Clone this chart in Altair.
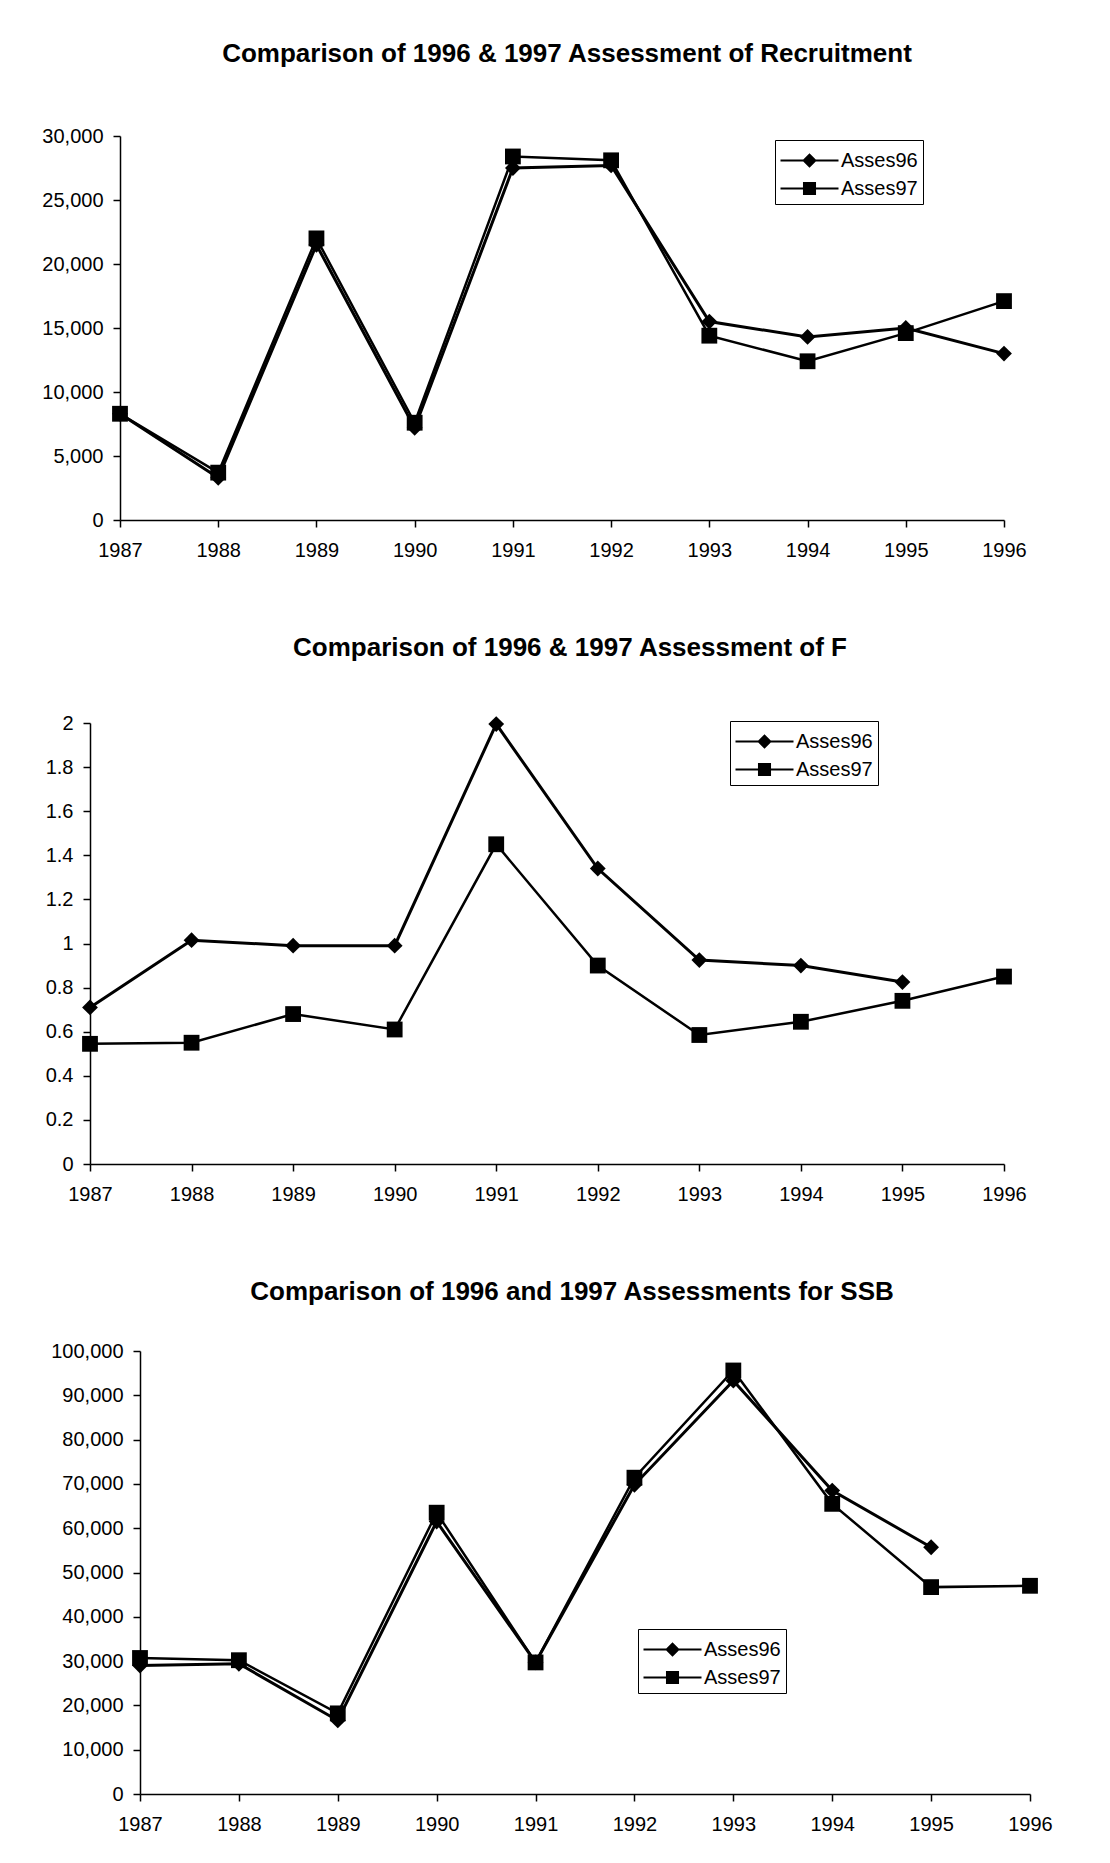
import altair as alt
import pandas as pd

years = [1987, 1988, 1989, 1990, 1991, 1992, 1993, 1994, 1995, 1996]
series_names = ["Asses96", "Asses97"]

rec96 = [8300, 3300, 21500, 7200, 27500, 27700, 15500, 14300, 15000, 13000]
rec97 = [8300, 3700, 22000, 7600, 28400, 28100, 14400, 12400, 14600, 17100]

f96 = [0.71, 1.015, 0.99, 0.99, 1.995, 1.34, 0.925, 0.90, 0.825, None]
f97 = [0.545, 0.55, 0.68, 0.61, 1.45, 0.90, 0.585, 0.645, 0.74, 0.85]

ssb96 = [29000, 29400, 16600, 61500, 29700, 69800, 93300, 68500, 55700, None]
ssb97 = [30700, 30200, 18200, 63500, 29700, 71400, 95600, 65500, 46700, 47000]

rec_ticks = [0, 5000, 10000, 15000, 20000, 25000, 30000]
f_ticks = [0, 0.2, 0.4, 0.6, 0.8, 1.0, 1.2, 1.4, 1.6, 1.8, 2.0]
ssb_ticks = [0, 10000, 20000, 30000, 40000, 50000, 60000, 70000, 80000, 90000, 100000]

FONT = "Liberation Sans"
# legend symbols: a line with the marker in its middle (fill only)
P96 = "M-2,-0.07L2,-0.07L2,0.07L-2,0.07ZM0,-0.5L0.5,0L0,0.5L-0.5,0Z"
P97 = "M-2,-0.07L2,-0.07L2,0.07L-2,0.07ZM-0.45,-0.45L0.45,-0.45L0.45,0.45L-0.45,0.45Z"


def long_df(a, b):
    rows = []
    for name, vals in zip(series_names, [a, b]):
        for yr, v in zip(years, vals):
            if v is not None:
                rows.append({"year": yr, "series": name, "value": v})
    return pd.DataFrame(rows)


def panel(df, title, ticks, fmt, width, height, extent, lx, ly, toff, tdx):
    x = alt.X("year:O", scale=alt.Scale(type="point", padding=0),
              axis=alt.Axis(title=None, labelAngle=0, tickSize=7, labelPadding=13))
    y = alt.Y("value:Q", scale=alt.Scale(domain=[ticks[0], ticks[-1]], nice=False),
              axis=alt.Axis(title=None, values=ticks, format=fmt, tickSize=7,
                            labelPadding=10, minExtent=extent, maxExtent=extent))
    base = alt.Chart(df)
    line = base.mark_line(color="black").encode(
        x=x, y=y, detail="series:N",
        strokeWidth=alt.StrokeWidth("series:N", scale=alt.Scale(domain=series_names, range=[3, 2.5]),
                                    legend=None),
    )
    pts = base.mark_point(filled=True, color="black", opacity=1, size=250).encode(
        x=x, y=y,
        shape=alt.Shape("series:N", scale=alt.Scale(domain=series_names, range=["diamond", "square"]),
                        legend=None),
    )
    leg = base.transform_filter("false").mark_point(
        filled=True, color="black", opacity=1, size=841
    ).encode(
        x=x, y=y,
        shape=alt.Shape("series:N", scale=alt.Scale(domain=series_names, range=[P96, P97]),
                        legend=alt.Legend(
                            title=None, orient="none", legendX=lx, legendY=ly,
                            labelFont=FONT, labelFontSize=20, labelColor="black",
                            strokeColor="black", fillColor="white", padding=5,
                            symbolSize=841, symbolOffset=14, labelOffset=16, rowPadding=2,
                            symbolFillColor="black", symbolOpacity=1,
                        )),
    )
    return alt.layer(line, pts, leg).resolve_scale(shape="independent").properties(
        width=width, height=height,
        title=alt.TitleParams(title, font=FONT, fontSize=26, fontWeight="bold",
                              anchor="middle", offset=toff, dx=tdx, color="black"),
    )


def spacer(w):
    return alt.Chart(pd.DataFrame({"s": [0]})).mark_point(opacity=0).properties(width=w, height=1)


p1 = panel(long_df(rec96, rec97), "Comparison of 1996 & 1997 Assessment of Recruitment",
           rec_ticks, ",d", 884, 384, 80, 655, 4, 59, 5)
p2 = panel(long_df(f96, f97), "Comparison of 1996 & 1997 Assessment of F",
           f_ticks, ".1~f", 914, 441, 75, 640, -2, 52, 23)
p3 = panel(long_df(ssb96, ssb97), "Comparison of 1996 and 1997 Assessments for SSB",
           ssb_ticks, ",d", 890, 443, 80, 498, 278, 36, -13)


def row(p, w):
    return alt.hconcat(spacer(w), p, spacing=0).resolve_scale(
        shape="independent", strokeWidth="independent", x="independent", y="independent"
    ).resolve_legend(shape="independent")


chart = alt.vconcat(row(p1, 29), row(p2, 1), row(p3, 39), spacing=75).resolve_scale(
    shape="independent", strokeWidth="independent", x="independent", y="independent"
).resolve_legend(shape="independent").properties(
    padding={"top": 33, "left": 0, "right": 5, "bottom": 5}
).configure_view(stroke=None).configure_axis(
    grid=False, labelFont=FONT, labelFontSize=20, labelColor="black",
    domainColor="black", domainWidth=1.5, tickColor="black", tickWidth=1.5,
)

chart.save("out.html", embed_options={"renderer": "svg", "actions": False})
